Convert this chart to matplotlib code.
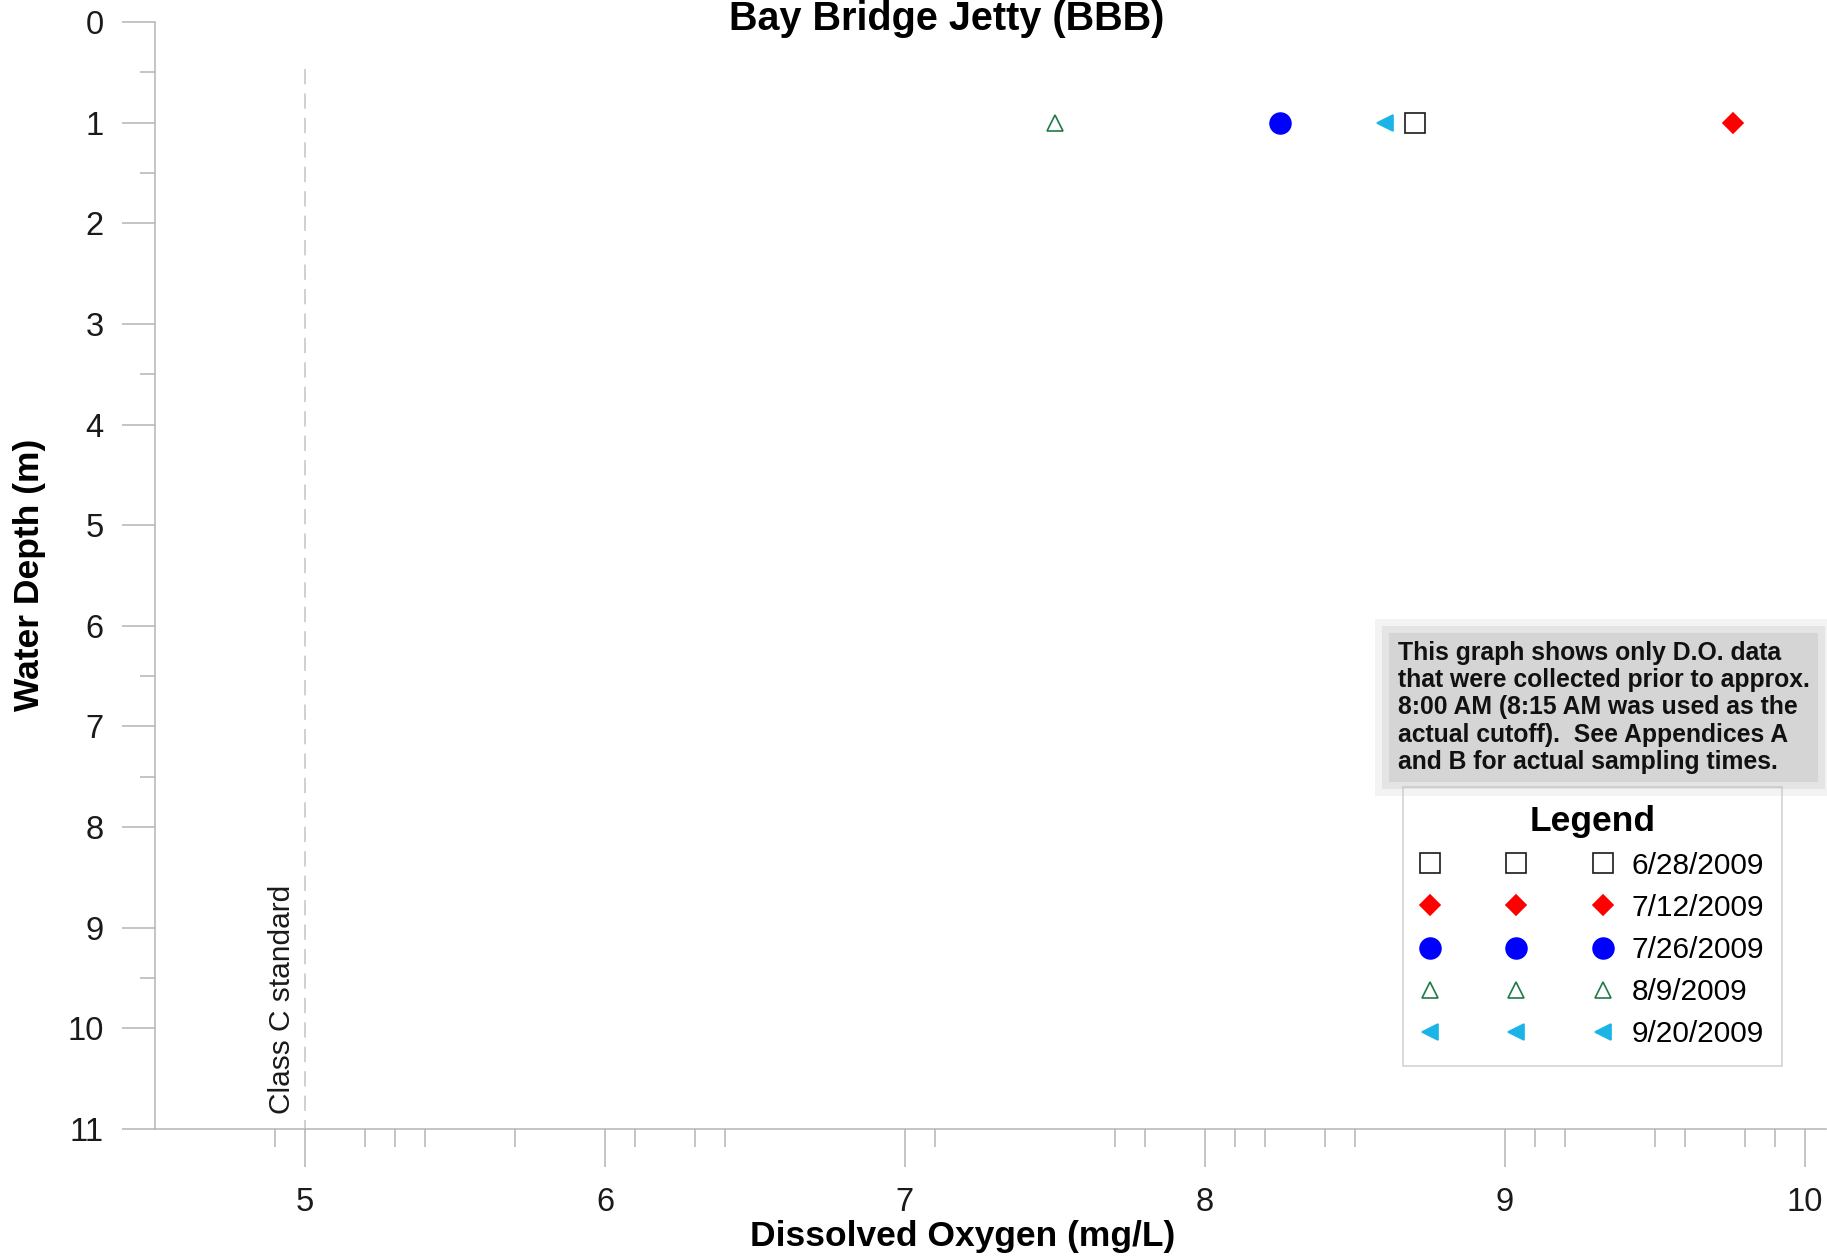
import matplotlib
matplotlib.use('Agg')
import matplotlib.pyplot as plt

plt.rcParams['font.family'] = ['Liberation Sans', 'DejaVu Sans']

# data
dates = ['6/28/2009', '7/12/2009', '7/26/2009', '8/9/2009', '9/20/2009']
do_values = [8.70, 9.76, 8.25, 7.50, 8.60]
depths = [1, 1, 1, 1, 1]
class_c_standard = 5.0

x_ticks = [5, 6, 7, 8, 9, 10]
y_ticks = list(range(0, 12))

# styling
markers = ['s', 'D', 'o', '^', '<']
sizes = [14, 10, 15, 11, 12]
faces = ['none', '#ff0000', '#0000ff', 'none', '#1ab4e6']
edges = ['#1a1a1a', '#ff0000', '#0000ff', '#1f7a45', '#1ab4e6']
grey = '#b4b4b4'

fig = plt.figure(figsize=(18.27, 12.56), dpi=100)
ax = fig.add_axes([0.0848, 0.1011, 0.9146, 0.8814])

for d, x, y, m, s, fc, ec in zip(dates, do_values, depths, markers, sizes, faces, edges):
    ax.plot([x], [y], linestyle='none', marker=m, markersize=s,
            markerfacecolor=fc, markeredgecolor=ec, markeredgewidth=1.2, label=d)

# Class C standard line
ax.plot([class_c_standard, class_c_standard], [0.47, 11], color='#c4c4c4',
        lw=1.1, linestyle=(0, (10, 6)), zorder=0)
ax.text(4.923, 10.85, 'Class C standard', rotation=90, ha='center', va='bottom',
        fontsize=21.5, color='#1a1a1a')

ax.set_xlim(4.5, 10.07)
ax.set_ylim(11, 0)
ax.set_xticks(x_ticks)
ax.set_yticks(y_ticks)
ax.set_xticks([4.9, 5.2, 5.3, 5.4, 5.7, 6.1, 6.3, 6.4, 7.1, 7.7, 7.8, 8.1, 8.2,
               8.4, 8.5, 9.1, 9.2, 9.5, 9.6, 9.8, 9.9], minor=True)
ax.set_yticks([0.5, 1.5, 3.5, 6.5, 7.5, 9.5], minor=True)

for side in ['top', 'right']:
    ax.spines[side].set_visible(False)
for side in ['left', 'bottom']:
    ax.spines[side].set_color(grey)
    ax.spines[side].set_linewidth(1.1)

ax.tick_params(axis='x', which='major', length=27, width=1.1, color=grey,
               pad=15, labelsize=23.5, labelcolor='#1a1a1a')
ax.tick_params(axis='x', which='minor', length=13, width=1.1, color=grey)
ax.tick_params(axis='y', which='major', length=24, width=1.1, color=grey,
               pad=13, labelsize=23.5, labelcolor='#1a1a1a')
ax.tick_params(axis='y', which='minor', length=11, width=1.1, color=grey)

fig.text(0.527, 0.008, 'Dissolved Oxygen (mg/L)', ha='center', va='baseline',
         fontsize=25.5, fontweight='bold')
fig.text(0.016, 0.542, 'Water Depth (m)', rotation=90, ha='center', va='center',
         fontsize=25.5, fontweight='bold')
fig.text(0.518, 0.9765, 'Bay Bridge Jetty (BBB)', ha='center', va='baseline',
         fontsize=28.5, fontweight='bold')

note = ('This graph shows only D.O. data\n'
        'that were collected prior to approx.\n'
        '8:00 AM (8:15 AM was used as the\n'
        'actual cutoff).  See Appendices A\n'
        'and B for actual sampling times.')
# soft grey shadow behind the note
for pad, alpha in [(16, 0.2), (11, 0.3), (6, 0.45)]:
    fig.text(0.765, 0.4897, note, ha='left', va='top', fontsize=17.8,
             fontweight='bold', linespacing=1.17, color='none',
             bbox=dict(facecolor='#c4c4c4', edgecolor='none', pad=pad, alpha=alpha))
fig.text(0.765, 0.4897, note, ha='left', va='top', fontsize=17.8,
         fontweight='bold', linespacing=1.17, color='#111111')

leg = ax.legend(loc='upper left', bbox_to_anchor=(1388 / 1827, 1 - 772 / 1256),
                bbox_transform=fig.transFigure, numpoints=3, handlelength=6.4,
                handletextpad=0.65, borderpad=0.6, labelspacing=0.47,
                fontsize=21.5, title='Legend', fancybox=False, framealpha=1,
                edgecolor='#cfcfcf')
leg.get_title().set_fontsize(25.5)
leg.get_title().set_fontweight('bold')
leg.get_frame().set_linewidth(1.1)

plt.savefig('out.png', dpi=100)
